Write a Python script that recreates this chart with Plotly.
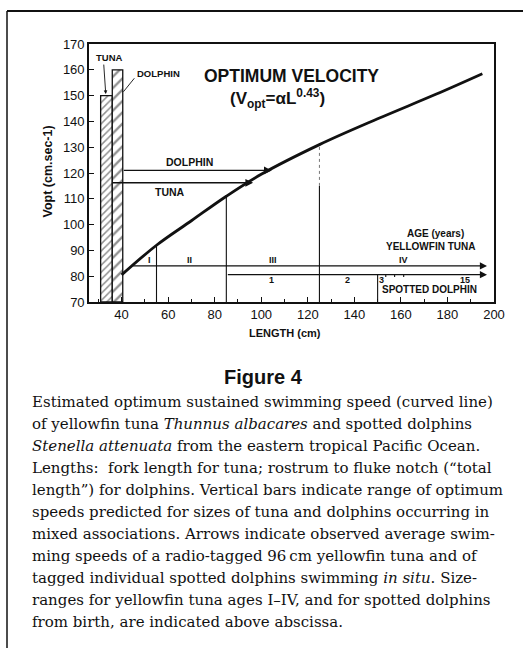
import plotly.graph_objects as go

# ---- data ----
length_cm = [40, 55, 70, 85, 100, 125, 150, 175, 195]
vopt = [80.5, 92, 101.5, 111, 119.5, 131, 141, 150.5, 158.5]

tuna_bar_len = [31, 36]        # size range of tuna in mixed associations
tuna_bar_v = [70, 150]
dolphin_bar_len = [36, 40.5]
dolphin_bar_v = [70, 160]

dolphin_obs = dict(start=40.3, end=104.5, v=121)
tuna_obs = dict(start=35.5, end=96.5, v=116.2)

tuna_age_bounds = [55, 85, 125]
tuna_age_bound_v = [92, 111, 131]
tuna_age_labels = ["I", "II", "III", "IV"]
tuna_age_label_x = [52, 69, 105, 161]
tuna_age_line = dict(start=44.3, end=197, v=84)

dolphin_age_bound = 150
dolphin_age_bound_top = 80.6
dolphin_age_labels = ["1", "2", "3", "15"]
dolphin_age_label_x = [104.4, 137, 151.5, 187.5]
dolphin_age_marks = [153.5, 157.3, 161.2]
dolphin_age_line = dict(start=85, end=197, v=80.6)

x_ticks = [40, 60, 80, 100, 120, 140, 160, 180, 200]
y_ticks = [70, 80, 90, 100, 110, 120, 130, 140, 150, 160, 170]

caption_lines = [
    "Estimated optimum sustained swimming speed (curved line)",
    "of yellowfin tuna <i>Thunnus albacares</i> and spotted dolphins",
    "<i>Stenella attenuata</i> from the eastern tropical Pacific Ocean.",
    "Lengths:  fork length for tuna; rostrum to fluke notch (\u201ctotal",
    "length\u201d) for dolphins. Vertical bars indicate range of optimum",
    "speeds predicted for sizes of tuna and dolphins occurring in",
    "mixed associations. Arrows indicate observed average swim-",
    "ming speeds of a radio-tagged 96\u2009cm yellowfin tuna and of",
    "tagged individual spotted dolphins swimming <i>in situ</i>. Size-",
    "ranges for yellowfin tuna ages I\u2013IV, and for spotted dolphins",
    "from birth, are indicated above abscissa.",
]

# ---- layout geometry (pixels) ----
W, H = 523, 648
L, R, T, B = 89, 29, 44, 346
PW, PH = W - L - R, H - T - B


def px_x(px):
    return (px - L) / PW


def px_y(py):
    return (H - B - py) / PH


SANS = "Liberation Sans, Arial, sans-serif"
SERIF = "DejaVu Serif, serif"
INK = "#111111"

fig = go.Figure()

# hatched bars
for rng, vr, size in [(tuna_bar_len, tuna_bar_v, 5), (dolphin_bar_len, dolphin_bar_v, 8)]:
    fig.add_trace(go.Bar(
        x=[(rng[0] + rng[1]) / 2], y=[vr[1] - vr[0]], base=[vr[0]],
        width=[rng[1] - rng[0]],
        marker=dict(color="white", line=dict(color=INK, width=1.3),
                    pattern=dict(shape="/", fgcolor="#222222", bgcolor="white",
                                 size=size, solidity=0.3)),
        showlegend=False, hoverinfo="skip"))

# optimum velocity curve
fig.add_trace(go.Scatter(x=length_cm, y=vopt, mode="lines",
                         line=dict(color=INK, width=2.8, shape="spline"),
                         showlegend=False, hoverinfo="skip"))

# vertical age-boundary lines
vx, vy = [], []
for bx, top in zip(tuna_age_bounds, tuna_age_bound_v):
    vx += [bx, bx, None]
    vy += [70, top if bx != 125 else 115, None]
vx += [dolphin_age_bound, dolphin_age_bound, None]
vy += [70, dolphin_age_bound_top, None]
for m in dolphin_age_marks:
    vx += [m, m, None]
    vy += [dolphin_age_line["v"], dolphin_age_line["v"] - 0.9, None]
fig.add_trace(go.Scatter(x=vx, y=vy, mode="lines", line=dict(color=INK, width=1.1),
                         showlegend=False, hoverinfo="skip"))
# faint upper part of 125 cm line
fig.add_trace(go.Scatter(x=[tuna_age_bounds[2]] * 2, y=[115, tuna_age_bound_v[2]], mode="lines",
                         line=dict(color="#666666", width=0.9, dash="dot"),
                         showlegend=False, hoverinfo="skip"))

annotations = []


def arrow(x0, x1, y, width=1.4):
    annotations.append(dict(x=x1, y=y, ax=x0, ay=y, xref="x", yref="y", axref="x", ayref="y",
                            text="", showarrow=True, arrowhead=2, arrowsize=1.1,
                            arrowwidth=width, arrowcolor=INK, standoff=0, startstandoff=0))


arrow(dolphin_obs["start"], dolphin_obs["end"], dolphin_obs["v"])
arrow(tuna_obs["start"], tuna_obs["end"], tuna_obs["v"])
arrow(tuna_age_line["start"], tuna_age_line["end"], tuna_age_line["v"], 1.3)
arrow(dolphin_age_line["start"], dolphin_age_line["end"], dolphin_age_line["v"], 1.3)


def label(text, x, y, size=10, xanchor="center", bold=True, yanchor="middle"):
    annotations.append(dict(x=x, y=y, xref="x", yref="y", text=(f"<b>{text}</b>" if bold else text),
                            showarrow=False, xanchor=xanchor, yanchor=yanchor,
                            font=dict(family=SANS, size=size, color=INK)))


label("DOLPHIN", 69, 124.4, size=10.5)
label("TUNA", 61, 112.5, size=10.5)
label("TUNA", 34.8, 164.8, size=9.5)
label("DOLPHIN", 56, 158.4, size=9.5)
label("OPTIMUM VELOCITY", 113, 157.6, size=17.5)
label("(V<sub>opt</sub>=\u03b1L<sup>0.43</sup>)", 107, 148.9, size=17)
for t, x in zip(tuna_age_labels, tuna_age_label_x):
    label(t, x, 86.4, size=9)
for t, x in zip(dolphin_age_labels, dolphin_age_label_x):
    label(t, x, 78.4, size=9)
label("SPOTTED DOLPHIN", 151, 74.7, size=10, xanchor="left")
label("AGE (years)", 175, 96.6, size=10)
label("YELLOWFIN TUNA", 172.7, 91.4, size=10)

# leader lines from labels to bars
annotations.append(dict(x=33.2, y=150.6, ax=32.3, ay=162.6, xref="x", yref="y", axref="x", ayref="y",
                        text="", showarrow=True, arrowhead=2, arrowsize=0.8, arrowwidth=0.9,
                        arrowcolor=INK, standoff=0))
annotations.append(dict(x=40.8, y=151.5, ax=46, ay=157.3, xref="x", yref="y", axref="x", ayref="y",
                        text="", showarrow=True, arrowhead=0, arrowwidth=0.9,
                        arrowcolor=INK, standoff=0))

# axis titles
annotations.append(dict(x=px_x(47), y=px_y(171.5), xref="paper", yref="paper",
                        text="<b>Vopt (cm.sec-1)</b>", textangle=-90, showarrow=False,
                        xanchor="center", yanchor="middle",
                        font=dict(family=SANS, size=12.5, color=INK)))
annotations.append(dict(x=px_x(284.5), y=px_y(332.7), xref="paper", yref="paper",
                        text="<b>LENGTH (cm)</b>", showarrow=False,
                        xanchor="center", yanchor="middle",
                        font=dict(family=SANS, size=11, color=INK)))

# caption
annotations.append(dict(x=px_x(263), y=px_y(377), xref="paper", yref="paper", text="<b>Figure 4</b>",
                        showarrow=False, xanchor="center", yanchor="middle",
                        font=dict(family=SANS, size=20, color=INK)))
for i, line in enumerate(caption_lines):
    annotations.append(dict(x=px_x(30), y=px_y(401.7 + 22 * i), xref="paper", yref="paper",
                            text=line, showarrow=False, xanchor="left", yanchor="middle",
                            font=dict(family=SERIF, size=15, color=INK)))

shapes = [
    dict(type="line", xref="paper", yref="paper", x0=px_x(7), x1=px_x(523), y0=px_y(11), y1=px_y(11),
         line=dict(color=INK, width=2)),
    dict(type="line", xref="paper", yref="paper", x0=px_x(7), x1=px_x(7), y0=px_y(11), y1=px_y(648),
         line=dict(color=INK, width=1.5)),
]

fig.update_layout(
    width=W, height=H, margin=dict(l=L, r=R, t=T, b=B, pad=0, autoexpand=False),
    paper_bgcolor="white", plot_bgcolor="white", barmode="overlay",
    annotations=annotations, shapes=shapes, showlegend=False,
    font=dict(family=SANS, color=INK),
)
fig.update_xaxes(range=[26, 200], tickvals=x_ticks, ticks="inside", ticklen=5, tickwidth=1,
                 tickcolor=INK, showline=True, linecolor=INK, linewidth=1.6, mirror=True,
                 showgrid=False, zeroline=False, automargin=False,
                 minor=dict(dtick=10, tick0=0, ticks="inside", ticklen=3, tickcolor=INK),
                 tickfont=dict(family=SANS, size=13, color=INK))
fig.update_yaxes(range=[70, 170], tickvals=y_ticks, ticks="inside", ticklen=5, tickwidth=1,
                 tickcolor=INK, showline=True, linecolor=INK, linewidth=1.6, mirror=True,
                 showgrid=False, zeroline=False, automargin=False,
                 tickfont=dict(family=SANS, size=13, color=INK))

fig.write_html("out.html", config={"displayModeBar": False},
               post_script="document.body.style.margin='0';document.body.style.overflow='hidden';")
